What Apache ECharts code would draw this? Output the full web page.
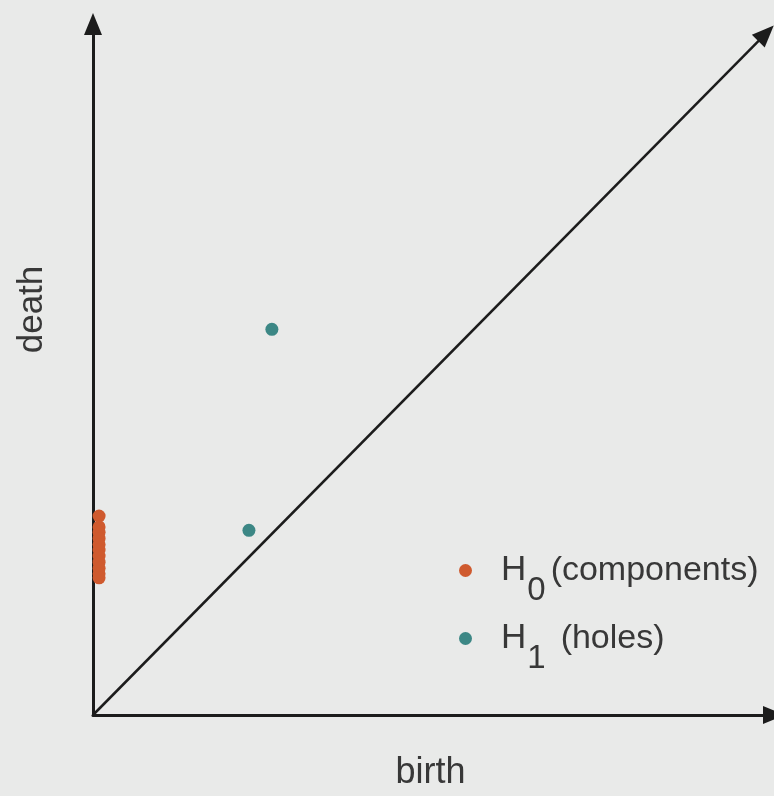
<!DOCTYPE html>
<html>
<head>
<meta charset="utf-8">
<script src="https://cdn.jsdelivr.net/npm/echarts@6/dist/echarts.min.js"></script>
<style>
  html, body { margin: 0; padding: 0; background: #e9eae9; }
  #chart { width: 774px; height: 796px; }
</style>
</head>
<body>
<div id="chart"></div>
<script>
// Persistence diagram: (birth, death) pairs of topological features
const h0Points = [
  [0.09, 2.93], [0.09, 2.77], [0.09, 2.69], [0.09, 2.60],
  [0.09, 2.51], [0.09, 2.43], [0.09, 2.34], [0.09, 2.25],
  [0.09, 2.16], [0.09, 2.08], [0.09, 2.02]
];
const h1Points = [[2.65, 5.68], [2.31, 2.72]];
const diagonalStart = [0, 0];
const diagonalEnd = [9.97, 10.04];
const seriesNames = ['H0', 'H1'];
const legendParts = {
  H0: ['H', '0', '(components)'],
  H1: ['H', '1', '(holes)']
};
const axisNames = { x: 'birth', y: 'death' };

const UNIT = 68;                 // pixels per data unit (same on both axes)
const ORIGIN = { x: 93, y: 716 };
const AXIS_END = { x: 779, y: 24 };

const INK = '#1c1c1c';
const TEXT = '#383838';
const ORANGE = '#cf5a2e';
const TEAL = '#3c8785';
const FONT = '"Liberation Sans", Arial, sans-serif';

const chart = echarts.init(document.getElementById('chart'), null, { renderer: 'canvas' });

function legendFor(name, top, gaps) {
  const p = legendParts[name];
  return {
    data: [name],
    orient: 'vertical',
    left: 454,
    top: top,
    icon: 'circle',
    itemWidth: 13,
    itemHeight: 13,
    selectedMode: false,
    formatter: () => `{h|${p[0]}}{s|${p[1]}}{t|${p[2]}}`,
    textStyle: {
      color: TEXT,
      fontFamily: FONT,
      rich: {
        h: { fontSize: 35, color: TEXT, fontFamily: FONT, padding: [0, 0, 0, 24] },
        s: { fontSize: 33, color: TEXT, fontFamily: FONT, padding: [40, 0, 0, gaps[0]] },
        t: { fontSize: 34, color: TEXT, fontFamily: FONT, padding: [0, 0, 0, gaps[1]] }
      }
    }
  };
}

const option = {
  backgroundColor: '#e9eae9',
  animation: false,
  grid: {
    left: ORIGIN.x,
    top: AXIS_END.y,
    width: AXIS_END.x - ORIGIN.x,
    height: ORIGIN.y - AXIS_END.y,
    containLabel: false
  },
  xAxis: {
    type: 'value',
    min: 0,
    max: (AXIS_END.x - ORIGIN.x) / UNIT,
    name: axisNames.x,
    nameLocation: 'middle',
    nameGap: 40,
    nameTextStyle: { fontSize: 36, color: TEXT, fontFamily: FONT, padding: [0, 6, 0, 0] },
    axisLine: {
      show: true,
      onZero: false,
      symbol: ['none', 'triangle'],
      symbolSize: [18, 22],
      lineStyle: { color: INK, width: 3 }
    },
    axisTick: { show: false },
    axisLabel: { show: false },
    splitLine: { show: false }
  },
  yAxis: {
    type: 'value',
    min: 0,
    max: (ORIGIN.y - AXIS_END.y) / UNIT,
    name: axisNames.y,
    nameLocation: 'middle',
    nameGap: 43,
    nameTextStyle: { fontSize: 35, color: TEXT, fontFamily: FONT, padding: [0, 0, 0, 120] },
    axisLine: {
      show: true,
      onZero: false,
      symbol: ['none', 'triangle'],
      symbolSize: [18, 22],
      lineStyle: { color: INK, width: 3 }
    },
    axisTick: { show: false },
    axisLabel: { show: false },
    splitLine: { show: false }
  },
  legend: [
    legendFor('H0', 548, [1, 5]),
    legendFor('H1', 616, [1, 15])
  ],
  series: [
    {
      name: 'diagonal',
      type: 'line',
      data: [],
      silent: true,
      markLine: {
        silent: true,
        animation: false,
        symbol: ['none', 'triangle'],
        symbolSize: [18, 22],
        label: { show: false },
        lineStyle: { color: INK, width: 2.5, type: 'solid' },
        emphasis: { disabled: true },
        data: [[{ coord: diagonalStart }, { coord: diagonalEnd }]]
      }
    },
    {
      name: seriesNames[0],
      type: 'scatter',
      data: h0Points,
      symbolSize: 13,
      itemStyle: { color: ORANGE, opacity: 1 },
      z: 3
    },
    {
      name: seriesNames[1],
      type: 'scatter',
      data: h1Points,
      symbolSize: 13,
      itemStyle: { color: TEAL, opacity: 1 },
      z: 3
    }
  ]
};

chart.setOption(option);
</script>
</body>
</html>
